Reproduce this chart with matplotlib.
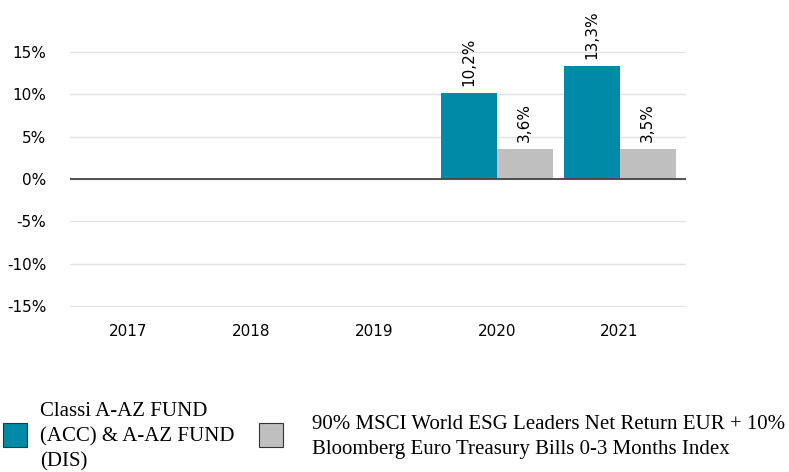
import matplotlib
matplotlib.use("Agg")
import matplotlib.pyplot as plt
from matplotlib.patches import Rectangle
import numpy as np

years = ["2017", "2018", "2019", "2020", "2021"]
fund = [np.nan, np.nan, np.nan, 10.2, 13.3]
bench = [np.nan, np.nan, np.nan, 3.6, 3.5]
yticks = [-15, -10, -5, 0, 5, 10, 15]
fund_label = "Classi A-AZ FUND\n(ACC) & A-AZ FUND\n(DIS)"
bench_label = "90% MSCI World ESG Leaders Net Return EUR + 10%\nBloomberg Euro Treasury Bills 0-3 Months Index"

teal = "#008aa8"
grey = "#bfbfbf"

fig = plt.figure(figsize=(7.89, 4.72), dpi=100)
ax = fig.add_axes([70/789, 1-307/472, 616/789, 256/472])

x = np.arange(len(years))
w = 0.455
ax.bar(x - w/2, fund, w, color=teal, zorder=3)
ax.bar(x + w/2, bench, w, color=grey, zorder=3)

def fmt(v):
    return f"{v:.1f}".replace(".", ",") + "%"

for xi, v in zip(x, fund):
    if not np.isnan(v):
        ax.annotate(fmt(v), (xi - w/2, v), xytext=(0, 5), textcoords="offset points",
                    rotation=90, ha="center", va="bottom", fontsize=11, annotation_clip=False)
for xi, v in zip(x, bench):
    if not np.isnan(v):
        ax.annotate(fmt(v), (xi + w/2, v), xytext=(0, 5), textcoords="offset points",
                    rotation=90, ha="center", va="bottom", fontsize=11, annotation_clip=False)

ax.set_xlim(-0.47, len(years) - 0.46)
ax.set_ylim(-15.12, 15.12)
ax.set_yticks(yticks)
ax.set_yticklabels([f"{t}%" for t in yticks])
ax.set_xticks(x)
ax.set_xticklabels(years)
ax.tick_params(axis="both", length=0, labelsize=11)
ax.tick_params(axis="y", pad=17)
ax.tick_params(axis="x", pad=12)
for s in ax.spines.values():
    s.set_visible(False)
ax.grid(axis="y", color="#e3e3e3", linewidth=1, zorder=0)
ax.axhline(0, color="#444444", linewidth=1.3, zorder=4)

# legend
fig.patches.append(Rectangle((3/789, 1-447/472), 24/789, 24/472, transform=fig.transFigure,
                             facecolor=teal, edgecolor="#333333", linewidth=0.8))
fig.patches.append(Rectangle((259/789, 1-447/472), 24/789, 24/472, transform=fig.transFigure,
                             facecolor=grey, edgecolor="#333333", linewidth=0.8))
fig.text(40/789, 1-437/472, fund_label, family="Liberation Serif", fontsize=15,
         va="center", ha="left", linespacing=1.42)
fig.text(312/789, 1-437/472, bench_label, family="Liberation Serif", fontsize=15,
         va="center", ha="left", linespacing=1.42)

fig.savefig("out.png", dpi=100)
